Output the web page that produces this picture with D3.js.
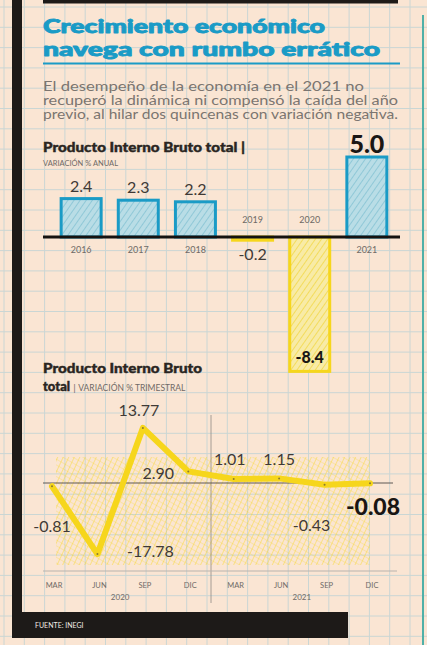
<!DOCTYPE html>
<html>
<head>
<meta charset="utf-8">
<script src="https://cdn.jsdelivr.net/npm/d3@7"></script>
<style>
  html, body { margin: 0; padding: 0; background: #fae5d3; }
  svg { display: block; }
</style>
</head>
<body>
<div id="chart"></div>
<script>
// annual GDP variation
var years = ["2016", "2017", "2018", "2019", "2020", "2021"];
var annualValues = [2.4, 2.3, 2.2, -0.2, -8.4, 5.0];

// quarterly GDP variation
var quarters = ["MAR", "JUN", "SEP", "DIC", "MAR", "JUN", "SEP", "DIC"];
var quarterYears = ["2020", "2021"];
var quarterValues = [-0.81, -17.78, 13.77, 2.90, 1.01, 1.15, -0.43, -0.08];

var subtitleLines = [
    "El desempeño de la economía en el 2021 no",
    "recuperó la dinámica ni compensó la caída del año",
    "previo, al hilar dos quincenas con variación negativa."
];

var W = 427, H = 645;
var blue = "#1a9bc6", yellow = "#f6d61c", ink = "#2a2522", gray = "#6f6a66";

var svg = d3.select("#chart").append("svg")
    .attr("width", W)
    .attr("height", H);

var defs = svg.append("defs");

function hatch(id, bg, line, angle, w) {
    var p = defs.append("pattern")
        .attr("id", id)
        .attr("patternUnits", "userSpaceOnUse")
        .attr("width", 5).attr("height", 5)
        .attr("patternTransform", "rotate(" + angle + ")");
    p.append("rect").attr("width", 5).attr("height", 5).attr("fill", bg);
    p.append("line").attr("x1", 0).attr("y1", 0).attr("x2", 0).attr("y2", 5)
        .attr("stroke", line).attr("stroke-width", w);
}
hatch("hatchBlue", "#b9dde6", "#86c3d4", 35, 1.6);
hatch("hatchYellow", "#f8eba6", "#f2d94a", 35, 1.6);
hatch("hatchArea", "none", "rgba(246,214,28,0.65)", 25, 1.3);
hatch("hatchArea2", "none", "rgba(246,214,28,0.45)", -60, 1.1);

// paper background + grid
svg.append("rect").attr("width", W).attr("height", H).attr("fill", "#fae5d3");
var grid = svg.append("g").attr("stroke", "#cad6d4").attr("stroke-width", 1);
d3.range(4, W, 20.3).forEach(function(x) {
    grid.append("line").attr("x1", x).attr("x2", x).attr("y1", 0).attr("y2", H);
});
d3.range(7, H, 20.3).forEach(function(y) {
    grid.append("line").attr("y1", y).attr("y2", y).attr("x1", 0).attr("x2", W);
});

// frame
svg.append("rect").attr("x", 12).attr("y", 0).attr("width", 10).attr("height", 638).attr("fill", "#1d1a18");
svg.append("rect").attr("x", 43).attr("y", 0).attr("width", 355).attr("height", 3.5).attr("fill", "#1d1a18");
svg.append("rect").attr("x", 12).attr("y", 612).attr("width", 336).attr("height", 26).attr("fill", "#1d1a18");
svg.append("line").attr("x1", 423).attr("x2", 423).attr("y1", 15).attr("y2", H)
    .attr("stroke", "#4fb0a8").attr("stroke-width", 2);
svg.append("text").attr("x", 35).attr("y", 628)
    .attr("font-family", "Lato, sans-serif").attr("font-size", 7).attr("fill", "#f2ece6")
    .text("FUENTE: INEGI");

// title
var title = svg.append("g")
    .attr("font-family", "Lato, 'DejaVu Sans', sans-serif")
    .attr("font-weight", 900)
    .attr("fill", blue)
    .attr("stroke", blue)
    .attr("stroke-width", 0.9)
    .attr("stroke-linejoin", "round");
title.append("text").attr("x", 43).attr("y", 33).attr("font-size", 19)
    .attr("textLength", 282).attr("lengthAdjust", "spacingAndGlyphs")
    .text("Crecimiento económico");
title.append("text").attr("x", 43).attr("y", 56).attr("font-size", 19)
    .attr("textLength", 337).attr("lengthAdjust", "spacingAndGlyphs")
    .text("navega con rumbo errático");
svg.append("line").attr("x1", 43).attr("x2", 400).attr("y1", 63.5).attr("y2", 63.5)
    .attr("stroke", blue).attr("stroke-width", 2.2);

svg.append("g").selectAll("text")
    .data(subtitleLines)
    .enter().append("text")
    .attr("x", 43)
    .attr("y", function(d, i) { return 91 + i * 14; })
    .attr("font-family", "Lato, sans-serif")
    .attr("font-weight", 400)
    .attr("font-size", 12.5)
    .attr("fill", "#7b7570")
    .attr("textLength", function(d, i) { return [321, 355, 355][i]; })
    .attr("lengthAdjust", "spacingAndGlyphs")
    .text(function(d) { return d; });

// ---------- annual bars ----------
var t1 = svg.append("g").attr("font-family", "Lato, sans-serif");
t1.append("text").attr("x", 43).attr("y", 152).attr("font-size", 13).attr("font-weight", 900)
    .attr("fill", ink).attr("stroke", ink).attr("stroke-width", 0.4)
    .attr("textLength", 202).attr("lengthAdjust", "spacingAndGlyphs")
    .text("Producto Interno Bruto total |");
t1.append("text").attr("x", 43).attr("y", 166).attr("font-size", 7)
    .attr("fill", gray).attr("textLength", 75).attr("lengthAdjust", "spacingAndGlyphs")
    .text("VARIACIÓN % ANUAL");

var x = d3.scaleBand()
    .domain(years)
    .range([44, 404])
    .padding(0.3);

var y = d3.scaleLinear()
    .domain([-9, 5.5])
    .range([237 + 9 * 16, 237 - 5.5 * 16]);

var bars = svg.append("g");
bars.selectAll("rect")
    .data(annualValues)
    .enter().append("rect")
    .attr("x", function(d, i) { return x(years[i]); })
    .attr("y", function(d) { return y(Math.max(0, d)); })
    .attr("width", x.bandwidth())
    .attr("height", function(d) { return Math.abs(y(d) - y(0)); })
    .attr("fill", function(d) { return d >= 0 ? "url(#hatchBlue)" : "url(#hatchYellow)"; })
    .attr("stroke", function(d) { return d >= 0 ? blue : yellow; })
    .attr("stroke-width", 3);

svg.append("line")
    .attr("x1", 43).attr("x2", 400)
    .attr("y1", y(0)).attr("y2", y(0))
    .attr("stroke", "#151210").attr("stroke-width", 3);

// year labels
svg.append("g").selectAll("text")
    .data(annualValues)
    .enter().append("text")
    .attr("x", function(d, i) { return x(years[i]) + x.bandwidth() / 2; })
    .attr("y", function(d) { return d >= 0 ? y(0) + 16 : y(0) - 14; })
    .attr("text-anchor", "middle")
    .attr("font-family", "Lato, sans-serif")
    .attr("font-size", 9)
    .attr("fill", gray)
    .text(function(d, i) { return years[i]; });

// value labels
var last = annualValues.length - 1;
svg.append("g").selectAll("text")
    .data(annualValues)
    .enter().append("text")
    .attr("x", function(d, i) { return x(years[i]) + x.bandwidth() / 2; })
    .attr("y", function(d, i) {
        if (i === last) return y(d) - 4;
        if (d >= 0) return y(d) - 7;
        if (d < -5) return y(d) - 8;
        return y(d) + 20;
    })
    .attr("text-anchor", "middle")
    .attr("font-family", "Lato, sans-serif")
    .attr("font-weight", function(d, i) { return (i === last || d < -5) ? 900 : 400; })
    .attr("font-size", function(d, i) { return i === last ? 25 : 16; })
    .attr("fill", function(d, i) { return (i === last || d < -5) ? "#1a1614" : "#3f3a36"; })
    .text(function(d) { return d3.format(".1f")(d).replace("−", "-"); });

// ---------- quarterly line ----------
var t2 = svg.append("g").attr("font-family", "Lato, sans-serif");
t2.append("text").attr("x", 43).attr("y", 373).attr("font-size", 13).attr("font-weight", 900)
    .attr("fill", ink).attr("stroke", ink).attr("stroke-width", 0.4)
    .attr("textLength", 159).attr("lengthAdjust", "spacingAndGlyphs")
    .text("Producto Interno Bruto");
var t2b = t2.append("text").attr("x", 43).attr("y", 391);
t2b.append("tspan").attr("font-size", 13).attr("font-weight", 900).attr("fill", ink)
    .attr("stroke", ink).attr("stroke-width", 0.4).text("total ");
t2b.append("tspan").attr("font-size", 10).attr("fill", gray).text("| ");
t2b.append("tspan").attr("font-size", 8.5).attr("fill", gray).text("VARIACIÓN % TRIMESTRAL");

var qx = d3.scalePoint()
    .domain(d3.range(quarters.length))
    .range([52, 370]);

var qy = d3.scaleLinear()
    .domain([-22, 15])
    .range([571, 423]);

// hatched backdrop
["url(#hatchArea)", "url(#hatchArea2)"].forEach(function(f) {
    svg.append("rect")
        .attr("x", qx(0) + 4).attr("y", qy(6.5))
        .attr("width", qx(7) - qx(0) - 4).attr("height", qy(-20.5) - qy(6.5))
        .attr("fill", f);
});

// year separator
var sepX = (qx(3) + qx(4)) / 2;
svg.append("line").attr("x1", sepX).attr("x2", sepX).attr("y1", 415).attr("y2", 603)
    .attr("stroke", "#8f8a86").attr("stroke-width", 0.8);

// zero line and bottom line
svg.append("line").attr("x1", 43).attr("x2", 393).attr("y1", qy(0)).attr("y2", qy(0))
    .attr("stroke", "#5e5955").attr("stroke-width", 1);
svg.append("line").attr("x1", 43).attr("x2", 397).attr("y1", qy(-22)).attr("y2", qy(-22))
    .attr("stroke", "#b8b3ae").attr("stroke-width", 1);

var line = d3.line()
    .x(function(d, i) { return qx(i); })
    .y(function(d) { return qy(d); });

svg.append("path")
    .datum(quarterValues)
    .attr("d", line)
    .attr("fill", "none")
    .attr("stroke", yellow)
    .attr("stroke-width", 6)
    .attr("stroke-linejoin", "round")
    .attr("stroke-linecap", "round");

svg.append("g").selectAll("circle")
    .data(quarterValues)
    .enter().append("circle")
    .attr("cx", function(d, i) { return qx(i); })
    .attr("cy", function(d) { return qy(d); })
    .attr("r", 1)
    .attr("fill", "#8a7a30");

// point labels (offsets from each point)
var qOffsets = [[0, 40], [53, -3], [-4, -18], [-30, 2], [-4, -20], [0, -19], [-13, 41], [3, 24]];
var qLast = quarterValues.length - 1;
svg.append("g").selectAll("text")
    .data(quarterValues)
    .enter().append("text")
    .attr("x", function(d, i) { return qx(i) + qOffsets[i][0]; })
    .attr("y", function(d, i) { return qy(d) + qOffsets[i][1]; })
    .attr("dy", "0.35em")
    .attr("text-anchor", "middle")
    .attr("font-family", "Lato, sans-serif")
    .attr("font-weight", function(d, i) { return i === qLast ? 900 : 400; })
    .attr("font-size", function(d, i) { return i === qLast ? 23 : 16; })
    .attr("fill", function(d, i) { return i === qLast ? "#1a1614" : "#3f3a36"; })
    .text(function(d) { return d3.format(".2f")(d).replace("−", "-"); });

// quarter ticks
svg.append("g").selectAll("text")
    .data(quarters)
    .enter().append("text")
    .attr("x", function(d, i) { return qx(i) + 2; })
    .attr("y", 588)
    .attr("text-anchor", "middle")
    .attr("font-family", "Lato, sans-serif")
    .attr("font-size", 7.5)
    .attr("fill", gray)
    .text(function(d) { return d; });

svg.append("g").selectAll("text")
    .data(quarterYears)
    .enter().append("text")
    .attr("x", function(d, i) { return i === 0 ? (qx(1) + qx(2)) / 2 : (qx(5) + qx(6)) / 2; })
    .attr("y", 600)
    .attr("text-anchor", "middle")
    .attr("font-family", "Lato, sans-serif")
    .attr("font-size", 8)
    .attr("fill", gray)
    .text(function(d) { return d; });
</script>
</body>
</html>
